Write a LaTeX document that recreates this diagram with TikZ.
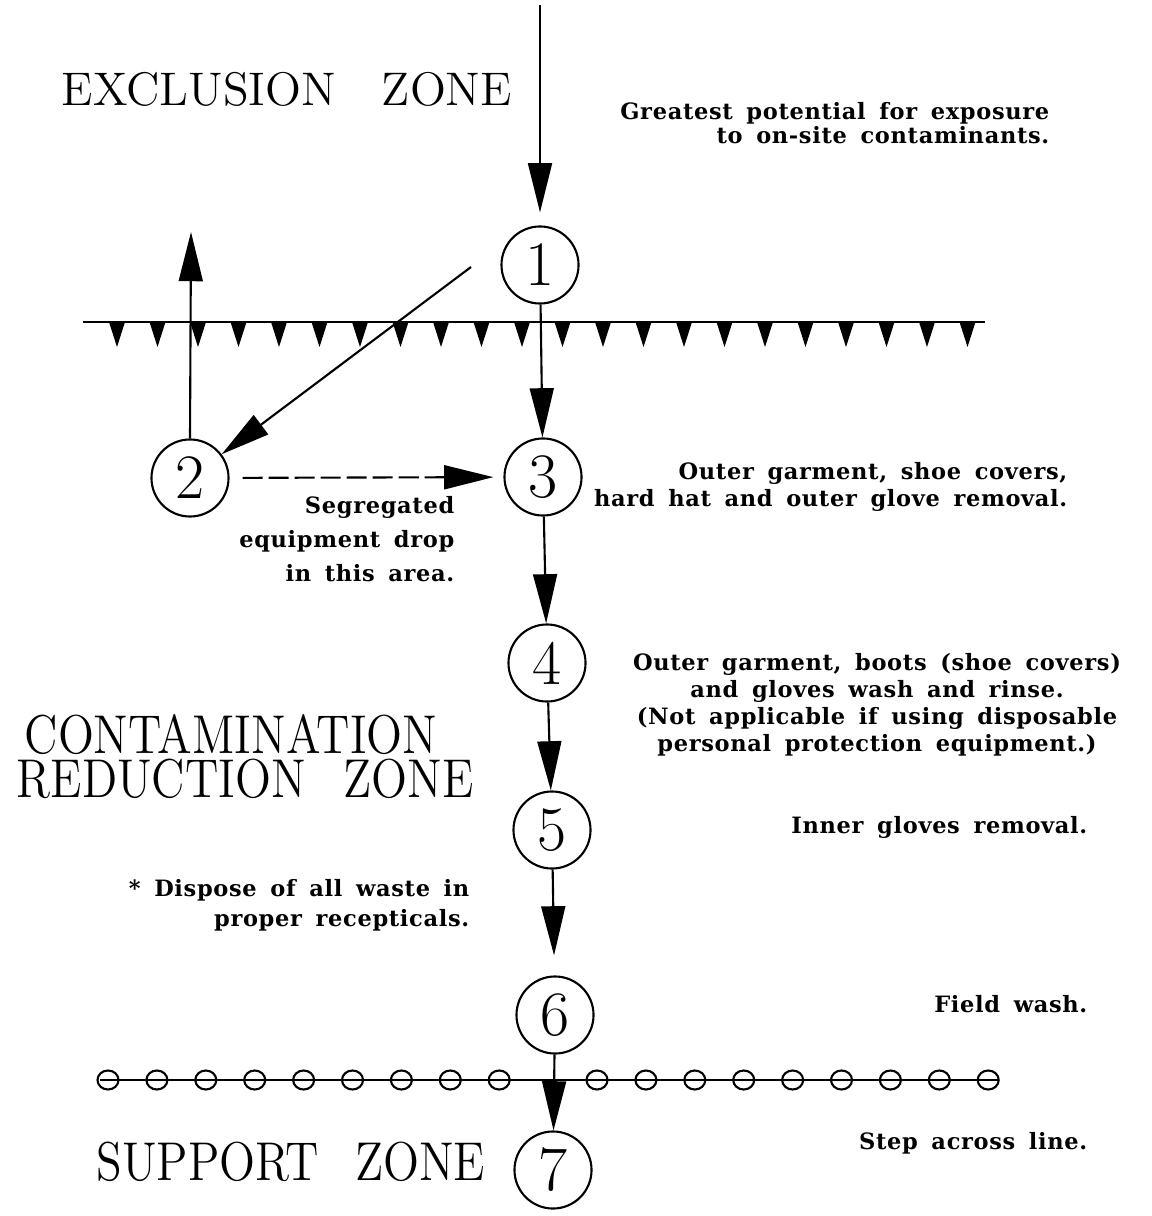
\documentclass[tikz,border=0pt]{standalone}
\usepackage{fontspec,graphicx}
\usetikzlibrary{arrows.meta}
\newfontfamily\notefont[LetterSpace=3,WordSpace=1.6]{DejaVu Serif}
\newcommand\tall[1]{\scalebox{1}[1.16]{#1}}

\tikzset{
  stage/.style={circle,draw,line width=0.6pt,minimum size=0.77cm,inner sep=0pt,
    font=\fontsize{18}{18}\selectfont},
  zone/.style={anchor=base west,inner sep=0pt,font=\fontsize{13.4}{12.4}\selectfont},
  note/.style={inner sep=0pt,font=\notefont\bfseries\fontsize{6.4}{7.6}\selectfont},
  flow/.style={-{Triangle[length=14pt,width=6.8pt]},line width=0.6pt},
}

\begin{document}
\begin{tikzpicture}[x=0.01cm,y=-0.01cm]
\useasboundingbox (0,0) rectangle (1151,1216);
% zones
\node[zone] (ez) at (61,106) {EXCLUSION\hspace{0.46cm}ZONE};
\node[zone,align=left] (crz) at (16,797) {\hspace{0.08cm}\tall{CONTAMINATION}\\\tall{REDUCTION\hspace{0.38cm}ZONE}};
\node[zone] (sz) at (96,1180) {\tall{SUPPORT\hspace{0.36cm}ZONE}};
% stations
\node[stage] (n1) at (540,265) {1};
\node[stage] (n2) at (190,478) {2};
\node[stage] (n3) at (543,477) {3};
\node[stage] (n4) at (547,663) {4};
\node[stage] (n5) at (552,830) {5};
\node[stage] (n6) at (555,1015) {6};
\node[stage] (n7) at (553,1170) {7};
% hotline and contamination control line
\draw[line width=0.6pt] (83,322)--(985,322);
\foreach \i in {0,...,21}
  \fill (117+40.5*\i-8,322)--(117+40.5*\i+8,322)--(117+40.5*\i,347)--cycle;
\draw[line width=0.6pt] (100,1080)--(998,1080);
\foreach \i in {0,...,8,10,11,...,18}
  \draw[line width=0.6pt] (108+48.9*\i,1080) ellipse (10.5 and 9.5);
% flow
\coordinate (top) at (540,5);
\coordinate (d1) at (471,267);
\coordinate (up) at (191,232);
\draw[flow,shorten >=13*0.01cm] (top)--(n1);
\draw[flow] (d1)--(n2);
\draw[flow] (n2.north)--(up);
\draw[flow] (n1)--(n3);
\draw[flow,dash pattern=on 5.7pt off 1.7pt,shorten <=13*0.01cm,shorten >=10*0.01cm] (n2)--(n3);
\draw[flow] (n3)--(n4);
\draw[flow] (n4)--(n5);
\draw[flow,shorten >=20*0.01cm] (n5)--(n6);
\draw[flow] (n6)--(n7);
% notes
\node[note,anchor=base east,align=right,font=\notefont\bfseries\fontsize{6.4}{7.1}\selectfont] (t1) at (1050,144)
  {Greatest potential for exposure\\to on-site contaminants.};
\node[note,anchor=base east,align=right] (t3) at (1068,506)
  {Outer garment, shoe covers,\\hard hat and outer glove removal.};
\node[note,anchor=base east,align=right,font=\notefont\bfseries\fontsize{6.4}{9.6}\selectfont] (t2) at (455,581)
  {Segregated\\equipment drop\\in this area.};
\node[note,anchor=base,align=center] (t4) at (877,751)
  {Outer garment, boots (shoe covers)\\and gloves wash and rinse.\\(Not applicable if using disposable\\personal protection equipment.)};
\node[note,anchor=base east] (t5) at (1088,833) {Inner gloves removal.};
\node[note,anchor=base east,align=right,font=\notefont\bfseries\fontsize{6.4}{8.5}\selectfont] (tw) at (470,926)
  {* Dispose of all waste in\\proper recepticals.};
\node[note,anchor=base east] (t6) at (1088,1012) {Field wash.};
\node[note,anchor=base east] (t7) at (1088,1149) {Step across line.};
\end{tikzpicture}
\end{document}
